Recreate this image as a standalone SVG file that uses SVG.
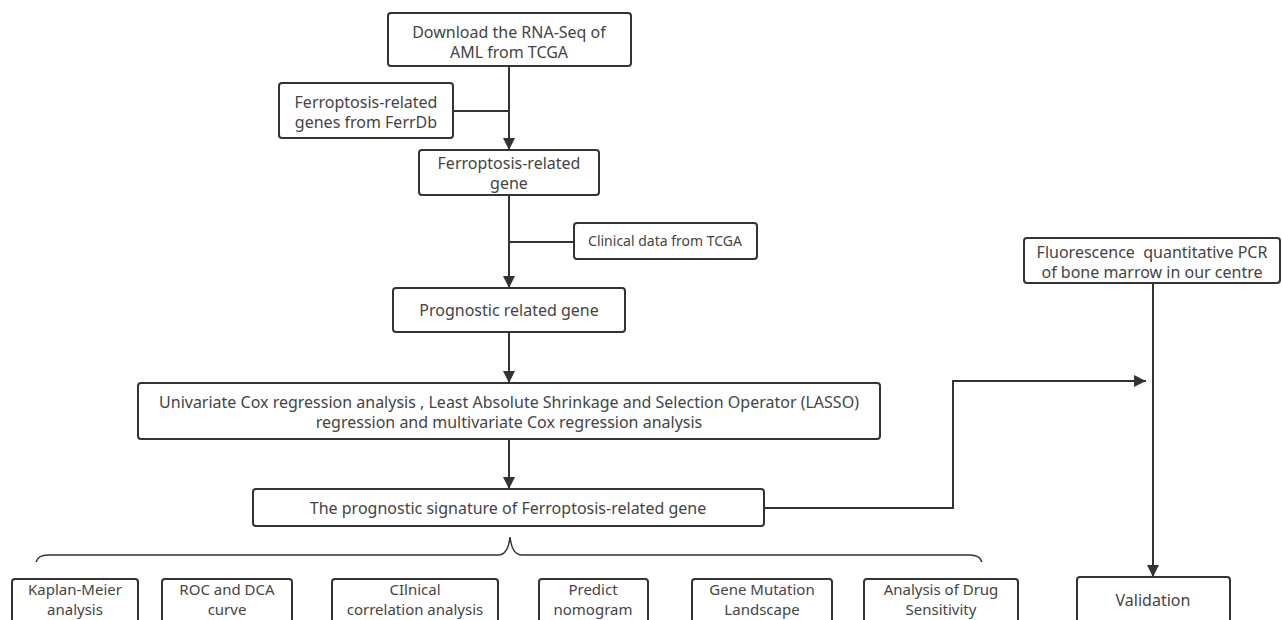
<svg xmlns="http://www.w3.org/2000/svg" width="1282" height="620" viewBox="0 0 1282 620">
<style>
.box{fill:#fff;stroke:#333;stroke-width:2}
.t{font-family:"Noto Sans","Open Sans",sans-serif;font-size:16px;fill:#444;text-anchor:middle;white-space:pre}
.s{font-size:15px}
.xs{font-size:14px}
.c{fill:none;stroke:#333;stroke-width:2}
.brace{fill:none;stroke:#333;stroke-width:1.5}
</style>
<defs>
<marker id="arr" viewBox="0 0 12 12" refX="12" refY="6" markerWidth="12" markerHeight="12" markerUnits="userSpaceOnUse" orient="auto">
<path d="M0,0 L12,6 L0,12 Z" fill="#333"/>
</marker>
</defs>
<rect width="1282" height="620" fill="#fff"/>
<g id="connectors">
<path class="c" d="M509,66 V150" marker-end="url(#arr)"/>
<path class="c" d="M453,111 H509"/>
<path class="c" d="M509,195 V288" marker-end="url(#arr)"/>
<path class="c" d="M574,242 H509"/>
<path class="c" d="M509,332 V383" marker-end="url(#arr)"/>
<path class="c" d="M509,439 V489" marker-end="url(#arr)"/>
<path class="c" d="M764,508 H953 V381 H1146" marker-end="url(#arr)"/>
<path class="c" d="M1153,283 V577" marker-end="url(#arr)"/>
<path class="brace" d="M36,562 Q38,555 48,555 L498,555 Q508,555 510,537 Q512,555 522,555 L970,555 Q980,555 982,562"/>
</g>
<g id="n_download">
<rect class="box" x="388" y="13" width="243" height="53" rx="3"/>
<text class="t" x="509" y="38">Download the RNA-Seq of</text>
<text class="t" x="509" y="58">AML from TCGA</text>
</g>
<g id="n_ferrdb">
<rect class="box" x="279" y="83" width="174" height="55" rx="3"/>
<text class="t" x="366" y="108">Ferroptosis-related</text>
<text class="t" x="366" y="128">genes from FerrDb</text>
</g>
<g id="n_frg">
<rect class="box" x="419" y="150" width="180" height="45" rx="3"/>
<text class="t" x="509" y="169">Ferroptosis-related</text>
<text class="t" x="509" y="189">gene</text>
</g>
<g id="n_clinical">
<rect class="box" x="574" y="223" width="183" height="36" rx="3"/>
<text class="t xs" x="665" y="246">Clinical data from TCGA</text>
</g>
<g id="n_prognostic">
<rect class="box" x="393" y="288" width="232" height="44" rx="3"/>
<text class="t" x="509" y="316">Prognostic related gene</text>
</g>
<g id="n_cox">
<rect class="box" x="138" y="383" width="742" height="56" rx="3"/>
<text class="t" x="509" y="408">Univariate Cox regression analysis , Least Absolute Shrinkage and Selection Operator (LASSO)</text>
<text class="t" x="509" y="428">regression and multivariate Cox regression analysis</text>
</g>
<g id="n_signature">
<rect class="box" x="253" y="489" width="511" height="37" rx="3"/>
<text class="t" x="508" y="514">The prognostic signature of Ferroptosis-related gene</text>
</g>
<g id="n_pcr">
<rect class="box" x="1024" y="238" width="256" height="45" rx="3"/>
<text class="t" x="1152" y="258">Fluorescence  quantitative PCR</text>
<text class="t" x="1152" y="278">of bone marrow in our centre</text>
</g>
<g id="n_validation">
<rect class="box" x="1077" y="577" width="153" height="60" rx="3"/>
<text class="t" x="1153" y="606">Validation</text>
</g>
<g id="n_km">
<rect class="box" x="12" y="579" width="126" height="60" rx="3"/>
<text class="t s" x="75" y="595">Kaplan-Meier</text>
<text class="t s" x="75" y="615">analysis</text>
</g>
<g id="n_roc">
<rect class="box" x="162" y="579" width="130" height="60" rx="3"/>
<text class="t s" x="227" y="595">ROC and DCA</text>
<text class="t s" x="227" y="615">curve</text>
</g>
<g id="n_clin_corr">
<rect class="box" x="332" y="579" width="166" height="60" rx="3"/>
<text class="t s" x="415" y="595">CIlnical</text>
<text class="t s" x="415" y="615">correlation analysis</text>
</g>
<g id="n_nomogram">
<rect class="box" x="539" y="579" width="109" height="60" rx="3"/>
<text class="t s" x="593" y="595">Predict</text>
<text class="t s" x="593" y="615">nomogram</text>
</g>
<g id="n_mutation">
<rect class="box" x="692" y="579" width="140" height="60" rx="3"/>
<text class="t s" x="762" y="595">Gene Mutation</text>
<text class="t s" x="762" y="615">Landscape</text>
</g>
<g id="n_drug">
<rect class="box" x="864" y="579" width="154" height="60" rx="3"/>
<text class="t s" x="941" y="595">Analysis of Drug</text>
<text class="t s" x="941" y="615">Sensitivity</text>
</g>
</svg>
